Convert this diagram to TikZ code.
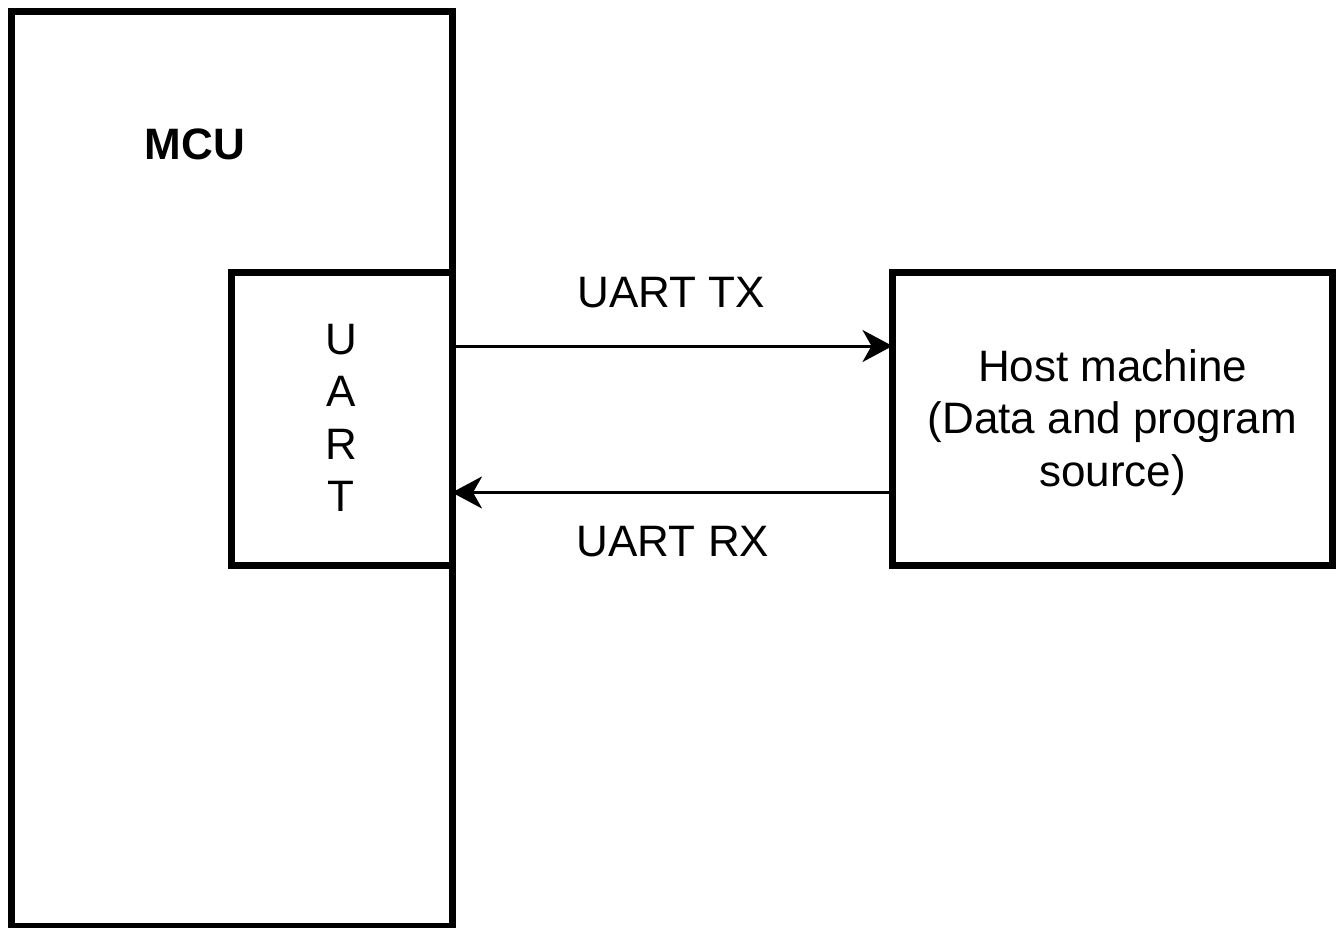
\documentclass[tikz,border=0pt]{standalone}
\usepackage{fontspec}
\setmainfont{Liberation Sans}
\usetikzlibrary{arrows.meta}
\begin{document}
\begin{tikzpicture}[x=1pt,y=-1pt,
  box/.style={draw=black, line width=7pt, fill=none, inner sep=0pt, outer sep=0pt, anchor=north west},
  txt/.style={font=\fontsize{44}{52.5}\selectfont, align=center, inner sep=0pt},
  arr/.style={line width=3pt, -{Stealth[length=30pt, width=32pt, inset=9pt]}}]
\useasboundingbox (0,0) rectangle (1336,928);
\fill[white] (0,0) rectangle (1336,928);
\node[box, minimum width=441pt, minimum height=915pt] (mcu) at (11,11.5) {};
\node[box, minimum width=220.5pt, minimum height=293.5pt] (uart) at (231.5,272) {};
\node[box, minimum width=440pt, minimum height=293pt] (host) at (892.5,272.5) {};
\node[txt, anchor=base, font=\fontsize{44}{52.5}\selectfont\bfseries] (mcul) at (195,160) {MCU};
\node[txt] (uartl) at (341,418) {U\\A\\R\\T};
\node[txt] (hostl) at (1112.5,422.5) {Host machine\\(Data and program\\source)};
\draw[arr] ([yshift=-74pt]uart.north east) -- ([yshift=-73.5pt]host.north west);
\draw[arr] ([yshift=-220pt]host.north west) -- ([yshift=-220.5pt]uart.north east);
\node[txt, anchor=base] (tx) at (671.5,307) {UART TX};
\node[txt, anchor=base] (rx) at (673,556) {UART RX};
\end{tikzpicture}
\end{document}
